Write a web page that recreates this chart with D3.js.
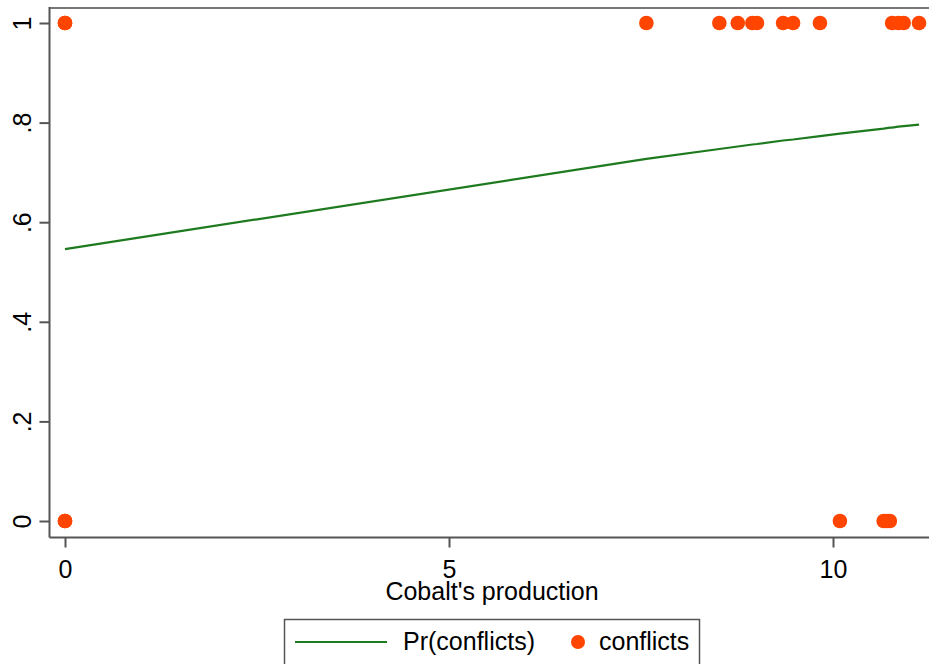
<!DOCTYPE html>
<html>
<head>
<meta charset="utf-8">
<script src="https://cdn.jsdelivr.net/npm/d3@7"></script>
<style>
  html, body { margin: 0; padding: 0; background: #fff; }
  svg { display: block; font-family: Arial, "Liberation Sans", sans-serif; }
</style>
</head>
<body>
<div id="chart"></div>
<script>
// Observed outcome (conflicts = 1 / 0) against cobalt production
const onesX = [0, 0, 7.57, 8.52, 8.76, 8.95, 9.01, 9.35, 9.48, 9.83, 10.77, 10.85, 10.92, 11.12];
const zerosX = [0, 0, 10.09, 10.66, 10.70, 10.74];

// Fitted probability Pr(conflicts) at each distinct x
const predX = [0, 7.57, 8.52, 8.76, 8.95, 9.01, 9.35, 9.48, 9.83, 10.09, 10.66, 10.70, 10.74, 10.77, 10.85, 10.92, 11.12];
const predY = [0.546, 0.727, 0.747, 0.752, 0.756, 0.757, 0.764, 0.766, 0.773, 0.778, 0.788, 0.789, 0.790, 0.790, 0.792, 0.793, 0.796];

const xTicks = [0, 5, 10];
const yTicks = [0, 0.2, 0.4, 0.6, 0.8, 1];
const yTickLabels = ['0', '.2', '.4', '.6', '.8', '1'];

const width = 929, height = 664;
const plot = { left: 49.5, right: 936, top: 8, bottom: 537.5 };
const dotColor = '#ff4500';
const lineColor = '#1e7a1e';
const axisColor = '#555';

const svg = d3.select('#chart').append('svg')
  .attr('width', width)
  .attr('height', height)
  .attr('viewBox', `0 0 ${width} ${height}`);

svg.append('rect').attr('width', width).attr('height', height).attr('fill', '#fff');

const x = d3.scaleLinear().domain([0, 10]).range([65, 833]);
const y = d3.scaleLinear().domain([0, 1]).range([521, 23]);

// top frame line
svg.append('line')
  .attr('x1', plot.left).attr('x2', width)
  .attr('y1', plot.top).attr('y2', plot.top)
  .attr('stroke', '#777').attr('stroke-width', 2);

// x axis
const xAxis = svg.append('g')
  .attr('transform', `translate(0,${plot.bottom})`)
  .call(d3.axisBottom(x).tickValues(xTicks).tickFormat(d3.format('d')).tickSize(10).tickPadding(8));
xAxis.select('.domain').remove();
xAxis.append('line')
  .attr('x1', plot.left).attr('x2', width)
  .attr('stroke', axisColor).attr('stroke-width', 2);
xAxis.selectAll('.tick line').attr('stroke', axisColor).attr('stroke-width', 2);
xAxis.selectAll('.tick text')
  .attr('fill', '#000')
  .style('font-size', '25px')
  .attr('dy', null)
  .attr('y', 40);

// y axis
const yAxis = svg.append('g')
  .attr('transform', `translate(${plot.left},0)`)
  .call(d3.axisLeft(y).tickValues(yTicks).tickFormat((d, i) => yTickLabels[i]).tickSize(10));
yAxis.select('.domain').remove();
yAxis.append('line')
  .attr('y1', plot.top - 1).attr('y2', plot.bottom)
  .attr('stroke', axisColor).attr('stroke-width', 2);
yAxis.selectAll('.tick line').attr('stroke', axisColor).attr('stroke-width', 2);
yAxis.selectAll('.tick text')
  .attr('fill', '#000')
  .style('font-size', '25px')
  .attr('x', null).attr('dy', null)
  .attr('text-anchor', 'middle')
  .attr('transform', 'translate(-19,0) rotate(-90)');

// fitted line
const line = d3.line().x(d => x(d[0])).y(d => y(d[1]));
svg.append('path')
  .datum(predX.map((v, i) => [v, predY[i]]))
  .attr('d', line)
  .attr('fill', 'none')
  .attr('stroke', lineColor)
  .attr('stroke-width', 2.2);

// observed points
const pts = onesX.map(v => [v, 1]).concat(zerosX.map(v => [v, 0]));
svg.append('g').selectAll('circle')
  .data(pts)
  .join('circle')
  .attr('cx', d => x(d[0]))
  .attr('cy', d => y(d[1]))
  .attr('r', 7.3)
  .attr('fill', dotColor);

// x title
svg.append('text')
  .attr('x', 492).attr('y', 600)
  .attr('text-anchor', 'middle')
  .style('font-size', '25px')
  .attr('fill', '#000')
  .text("Cobalt's production");

// legend
const legend = svg.append('g');
legend.append('rect')
  .attr('x', 284.5).attr('y', 619.5)
  .attr('width', 415).attr('height', 60)
  .attr('fill', '#fff')
  .attr('stroke', axisColor).attr('stroke-width', 1.5);
legend.append('line')
  .attr('x1', 295).attr('x2', 387)
  .attr('y1', 642).attr('y2', 642)
  .attr('stroke', lineColor).attr('stroke-width', 2.2);
legend.append('text')
  .attr('x', 403).attr('y', 650)
  .style('font-size', '25px').attr('fill', '#000')
  .text('Pr(conflicts)');
legend.append('circle')
  .attr('cx', 578).attr('cy', 642).attr('r', 7)
  .attr('fill', dotColor);
legend.append('text')
  .attr('x', 599).attr('y', 650)
  .style('font-size', '25px').attr('fill', '#000')
  .text('conflicts');
</script>
</body>
</html>
